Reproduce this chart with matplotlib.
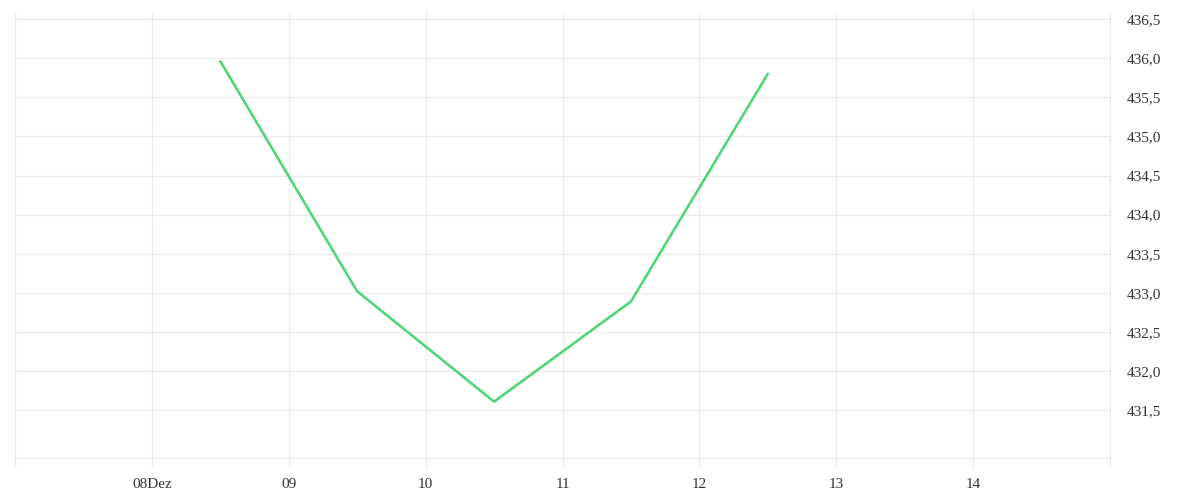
import matplotlib
matplotlib.use("Agg")
import matplotlib.pyplot as plt
from matplotlib.ticker import FuncFormatter
from datetime import datetime

# data (one value per day, at noon)
times = [datetime(2023, 12, 8, 12), datetime(2023, 12, 9, 12), datetime(2023, 12, 10, 12),
         datetime(2023, 12, 11, 12), datetime(2023, 12, 12, 12)]
values = [435.96, 433.02, 431.61, 432.89, 435.80]

tick_days = [datetime(2023, 12, d) for d in range(7, 16)]
tick_labels = ["", "08Dez", "09", "10", "11", "12", "13", "14", ""]
y_ticks = [431.5, 432.0, 432.5, 433.0, 433.5, 434.0, 434.5, 435.0, 435.5, 436.0, 436.5]

grid_color = "#ebebeb"
line_color = "#52d47a"
text_color = "#333333"

plt.rcParams["font.family"] = ["Liberation Serif", "DejaVu Serif"]

fig = plt.figure(figsize=(12, 5), dpi=100)
ax = fig.add_axes([0.0125, 0.084, 0.9125, 0.892])

ax.plot(times, values, color=line_color, linewidth=1.9, solid_capstyle="round")

ax.set_xlim(tick_days[0], tick_days[-1])
ax.set_ylim(430.89, 436.59)

# x axis: day ticks, grid lines run through the tick marks
ax.set_xticks(tick_days)
ax.set_xticklabels(tick_labels)
ax.tick_params(axis="x", length=7.5, width=0.8, colors=grid_color, labelcolor=text_color,
               labelsize=11, pad=7)

# y axis on the right, German decimal comma
ax.yaxis.tick_right()
ax.set_yticks(y_ticks)
ax.yaxis.set_major_formatter(FuncFormatter(lambda v, p: f"{v:.1f}".replace(".", ",")))
ax.tick_params(axis="y", length=0, labelsize=11, pad=12, labelcolor=text_color)

ax.grid(True, color=grid_color, linewidth=0.8)
ax.set_axisbelow(True)

ax.spines["top"].set_visible(False)
for side in ["bottom", "left", "right"]:
    ax.spines[side].set_color(grid_color)
    ax.spines[side].set_linewidth(0.8)

fig.savefig("out.png", dpi=100)
